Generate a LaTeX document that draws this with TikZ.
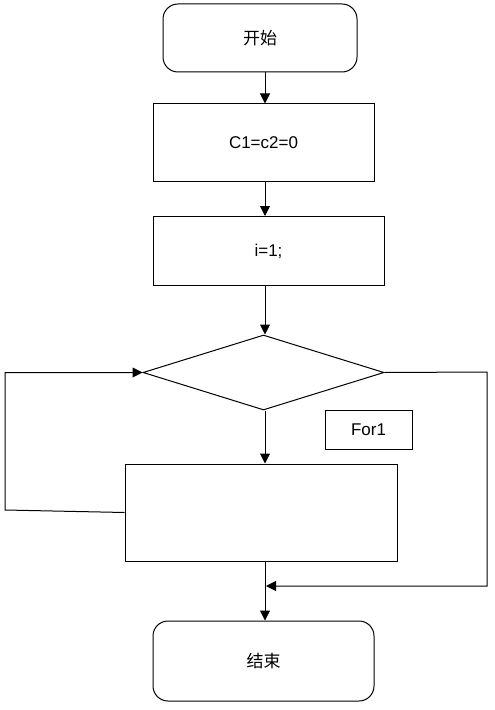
\documentclass[tikz,border=0pt]{standalone}
\usepackage{fontspec}
\setmainfont{Liberation Sans}
\newfontfamily\cjk{Noto Sans CJK SC}
\usetikzlibrary{shapes.geometric,arrows.meta}
\begin{document}
\begin{tikzpicture}[x=1bp,y=-1bp,
  every node/.style={font=\fontsize{17bp}{20bp}\selectfont},
  boxstyle/.style={draw,line width=1bp,rectangle,inner sep=0pt},
  termstyle/.style={draw,line width=1bp,rectangle,rounded corners=15bp,inner sep=0pt},
  diastyle/.style={draw,line width=1bp,diamond,inner sep=0pt},
  arr/.style={line width=1bp,-{Triangle[length=10bp,width=10bp]}},
  ln/.style={line width=1bp}]
\useasboundingbox (0,0) rectangle (495,710);
\fill[white] (0,0) rectangle (495,710);
\node[termstyle,minimum width=194bp,minimum height=68bp] (start) at (260,38) {\cjk 开始};
\node[boxstyle,minimum width=221bp,minimum height=77bp] (b1) at (263.5,142.5) {C1=c2=0};
\node[boxstyle,minimum width=231bp,minimum height=69bp] (b2) at (268.5,251) {i=1;};
\node[diastyle,minimum width=241bp,minimum height=75bp] (dia) at (263.5,372.5) {};
\node[boxstyle,minimum width=87bp,minimum height=39bp] (for) at (368.5,429.5) {For1};
\node[boxstyle,minimum width=272bp,minimum height=97bp] (b3) at (261,512.5) {};
\node[termstyle,minimum width=221bp,minimum height=80bp] (end) at (263.5,661) {\cjk 结束};
\coordinate (ax) at (265,0);
\coordinate (lt) at (5,510);
\coordinate (rt) at (487,372);
\coordinate (rb) at (487,586);
\coordinate (mj) at (266,586);
\draw[arr] (start.south -| ax) -- (b1.north -| ax);
\draw[arr] (b1.south -| ax) -- (b2.north -| ax);
\draw[arr] (b2.south -| ax) -- (dia.north -| ax);
\draw[arr] (dia.south -| ax) -- (b3.north -| ax);
\draw[arr] (b3.south -| ax) -- (end.north -| ax);
\draw[arr] (b3.west) -- (lt) -- (lt |- dia.west) -- (dia.west);
\draw[arr] (dia.east) -- (rt) -- (rb) -- (mj);
\end{tikzpicture}
\end{document}
